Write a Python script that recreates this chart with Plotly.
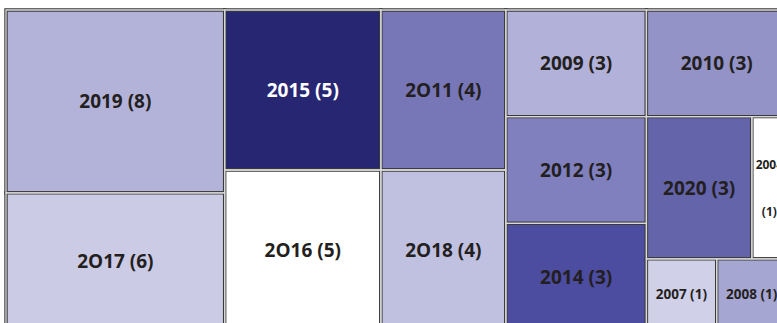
import plotly.graph_objects as go

# ---- data -------------------------------------------------------------
years = ["2019", "2O17", "2015", "2O16", "2O11", "2O18", "2009", "2010",
         "2012", "2014", "2020", "2004", "2007", "2008"]
counts = [8, 6, 5, 5, 4, 4, 3, 3, 3, 3, 3, 1, 1, 1]

# tiling groups (alternating columns / rows, laid out by plotly's slice-dice)
group_ids = ["all", "g1", "g2", "g3", "g4", "g4a", "g4b", "g4b1", "g4b2", "g4b2a", "g4b2b"]
group_parents = ["", "all", "all", "all", "all", "g4", "g4", "g4b", "g4b", "g4b2", "g4b2"]
year_groups = ["g1", "g1", "g2", "g2", "g3", "g3", "g4a", "g4a",
               "g4b1", "g4b1", "g4b2a", "g4b2a", "g4b2b", "g4b2b"]

# ---- styles -----------------------------------------------------------
tile_colors = ["#b3b3d9", "#cbcbe6", "#262673", "#ffffff", "#7777b8", "#c0c0e0",
               "#b1b1d9", "#9393c8", "#8080bf", "#4c4ca0", "#6464ab", "#ffffff",
               "#d0d0e8", "#a6a6d2"]
text_dark = "#231f20"
light_text_years = {"2015"}
small_text_years = {"2004": 12, "2007": 13.5, "2008": 13.5}
wrapped_years = {"2004"}

# ---- build hierarchy ----------------------------------------------------
ids = group_ids + years
parents = group_parents + year_groups
values = [0] * len(group_ids) + counts
texts = [""] * len(group_ids)
for y, c in zip(years, counts):
    if y in wrapped_years:
        texts.append(f"{y}<br> <br> <br>({c})")
    else:
        texts.append(f"{y} ({c})")

n_g = len(group_ids)
transparent = "rgba(0,0,0,0)"
fill = [transparent] * n_g + tile_colors
tcolors = [text_dark] * n_g + ["#ffffff" if y in light_text_years else text_dark for y in years]
tsizes = [19] * n_g + [small_text_years.get(y, 19) for y in years]
lw_dark = [0] * n_g + [3.4] * len(years)
lw_light = [0] * n_g + [1.3] * len(years)

common = dict(
    ids=ids, labels=ids, parents=parents, values=values,
    branchvalues="remainder", sort=False,
    tiling=dict(packing="slice-dice", pad=0),
    pathbar=dict(visible=False), hoverinfo="skip",
    root=dict(color=transparent),
)

fig = go.Figure()
fig.add_trace(go.Treemap(
    **common,
    marker=dict(colors=fill, line=dict(color="#3a3a3a", width=lw_dark),
                pad=dict(t=0, l=0, r=0, b=0)),
    text=texts, textinfo="text", textposition="middle center",
    textfont=dict(family="Open Sans", size=tsizes, color=tcolors, weight="bold"),
))
fig.add_trace(go.Treemap(
    **common,
    marker=dict(colors=[transparent] * len(ids),
                line=dict(color="#d8d8d8", width=lw_light),
                pad=dict(t=0, l=0, r=0, b=0)),
    textinfo="none",
))

fig.update_layout(
    width=795, height=335,
    margin=dict(l=5.5, t=9.5, r=7.5, b=4.5, pad=0),
    paper_bgcolor="#ffffff", plot_bgcolor="#ffffff",
    showlegend=False,
)

fig.write_html("out.html", config={"displayModeBar": False},
               post_script="document.body.style.margin='0';document.body.style.overflow='hidden';")
